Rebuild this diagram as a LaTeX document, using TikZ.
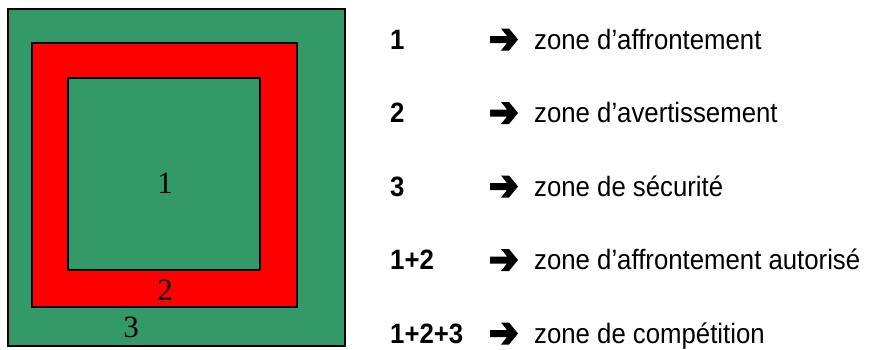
\documentclass[tikz,border=0pt]{standalone}
\usepackage{fontspec}
\setmainfont{Liberation Sans}
\newfontfamily\narrowfont[FakeStretch=0.92]{Liberation Sans}
\newfontfamily\seriffont{Liberation Serif}
\definecolor{zgreen}{RGB}{51,153,102}
\definecolor{zred}{RGB}{255,0,0}
\begin{document}
\begin{tikzpicture}[x=1pt,y=-1pt,
  zonebox/.style={draw=black,line width=2pt},
  numlabel/.style={inner sep=0pt,font=\seriffont\fontsize{31}{31}\selectfont},
  keylabel/.style={inner sep=0pt,anchor=base west,font=\narrowfont\fontsize{28}{28}\selectfont\bfseries},
  desclabel/.style={inner sep=0pt,anchor=base west,font=\narrowfont\fontsize{28}{28}\selectfont},
  pics/wdarrow/.style={code={
    \fill[black] (-14,-3.5) -- (3,-3.5) -- (-3,-11) -- (5,-11) -- (14,0) -- (5,11) -- (-3,11) -- (3,3.5) -- (-14,3.5) -- cycle;
  }}]
\useasboundingbox (0,0) rectangle (872,349);
% squares
\fill[white] (0,0) rectangle (872,349);
\draw[zonebox,fill=zgreen] (8,9) rectangle (345,346);
\draw[zonebox,fill=zred] (32,43) rectangle (297,307);
\draw[zonebox,fill=zgreen] (68,78) rectangle (260,270);
\node[numlabel] (z1) at (165,183.5) {1};
\node[numlabel] (z2) at (165,290) {2};
\node[numlabel] (z3) at (131,327) {3};
% legend
\foreach \k/\d/\y [count=\i] in {1/zone d’affrontement/49,
                                 2/zone d’avertissement/122.5,
                                 3/zone de sécurité/196,
                                 1+2/zone d’affrontement autorisé/269.5,
                                 1+2+3/zone de compétition/343}{
  \node[keylabel] (k\i) at (390,\y) {\k};
  \pic at (504,\y-9.5) {wdarrow};
  \node[desclabel] (d\i) at (534,\y) {\d};
}
\end{tikzpicture}
\end{document}
